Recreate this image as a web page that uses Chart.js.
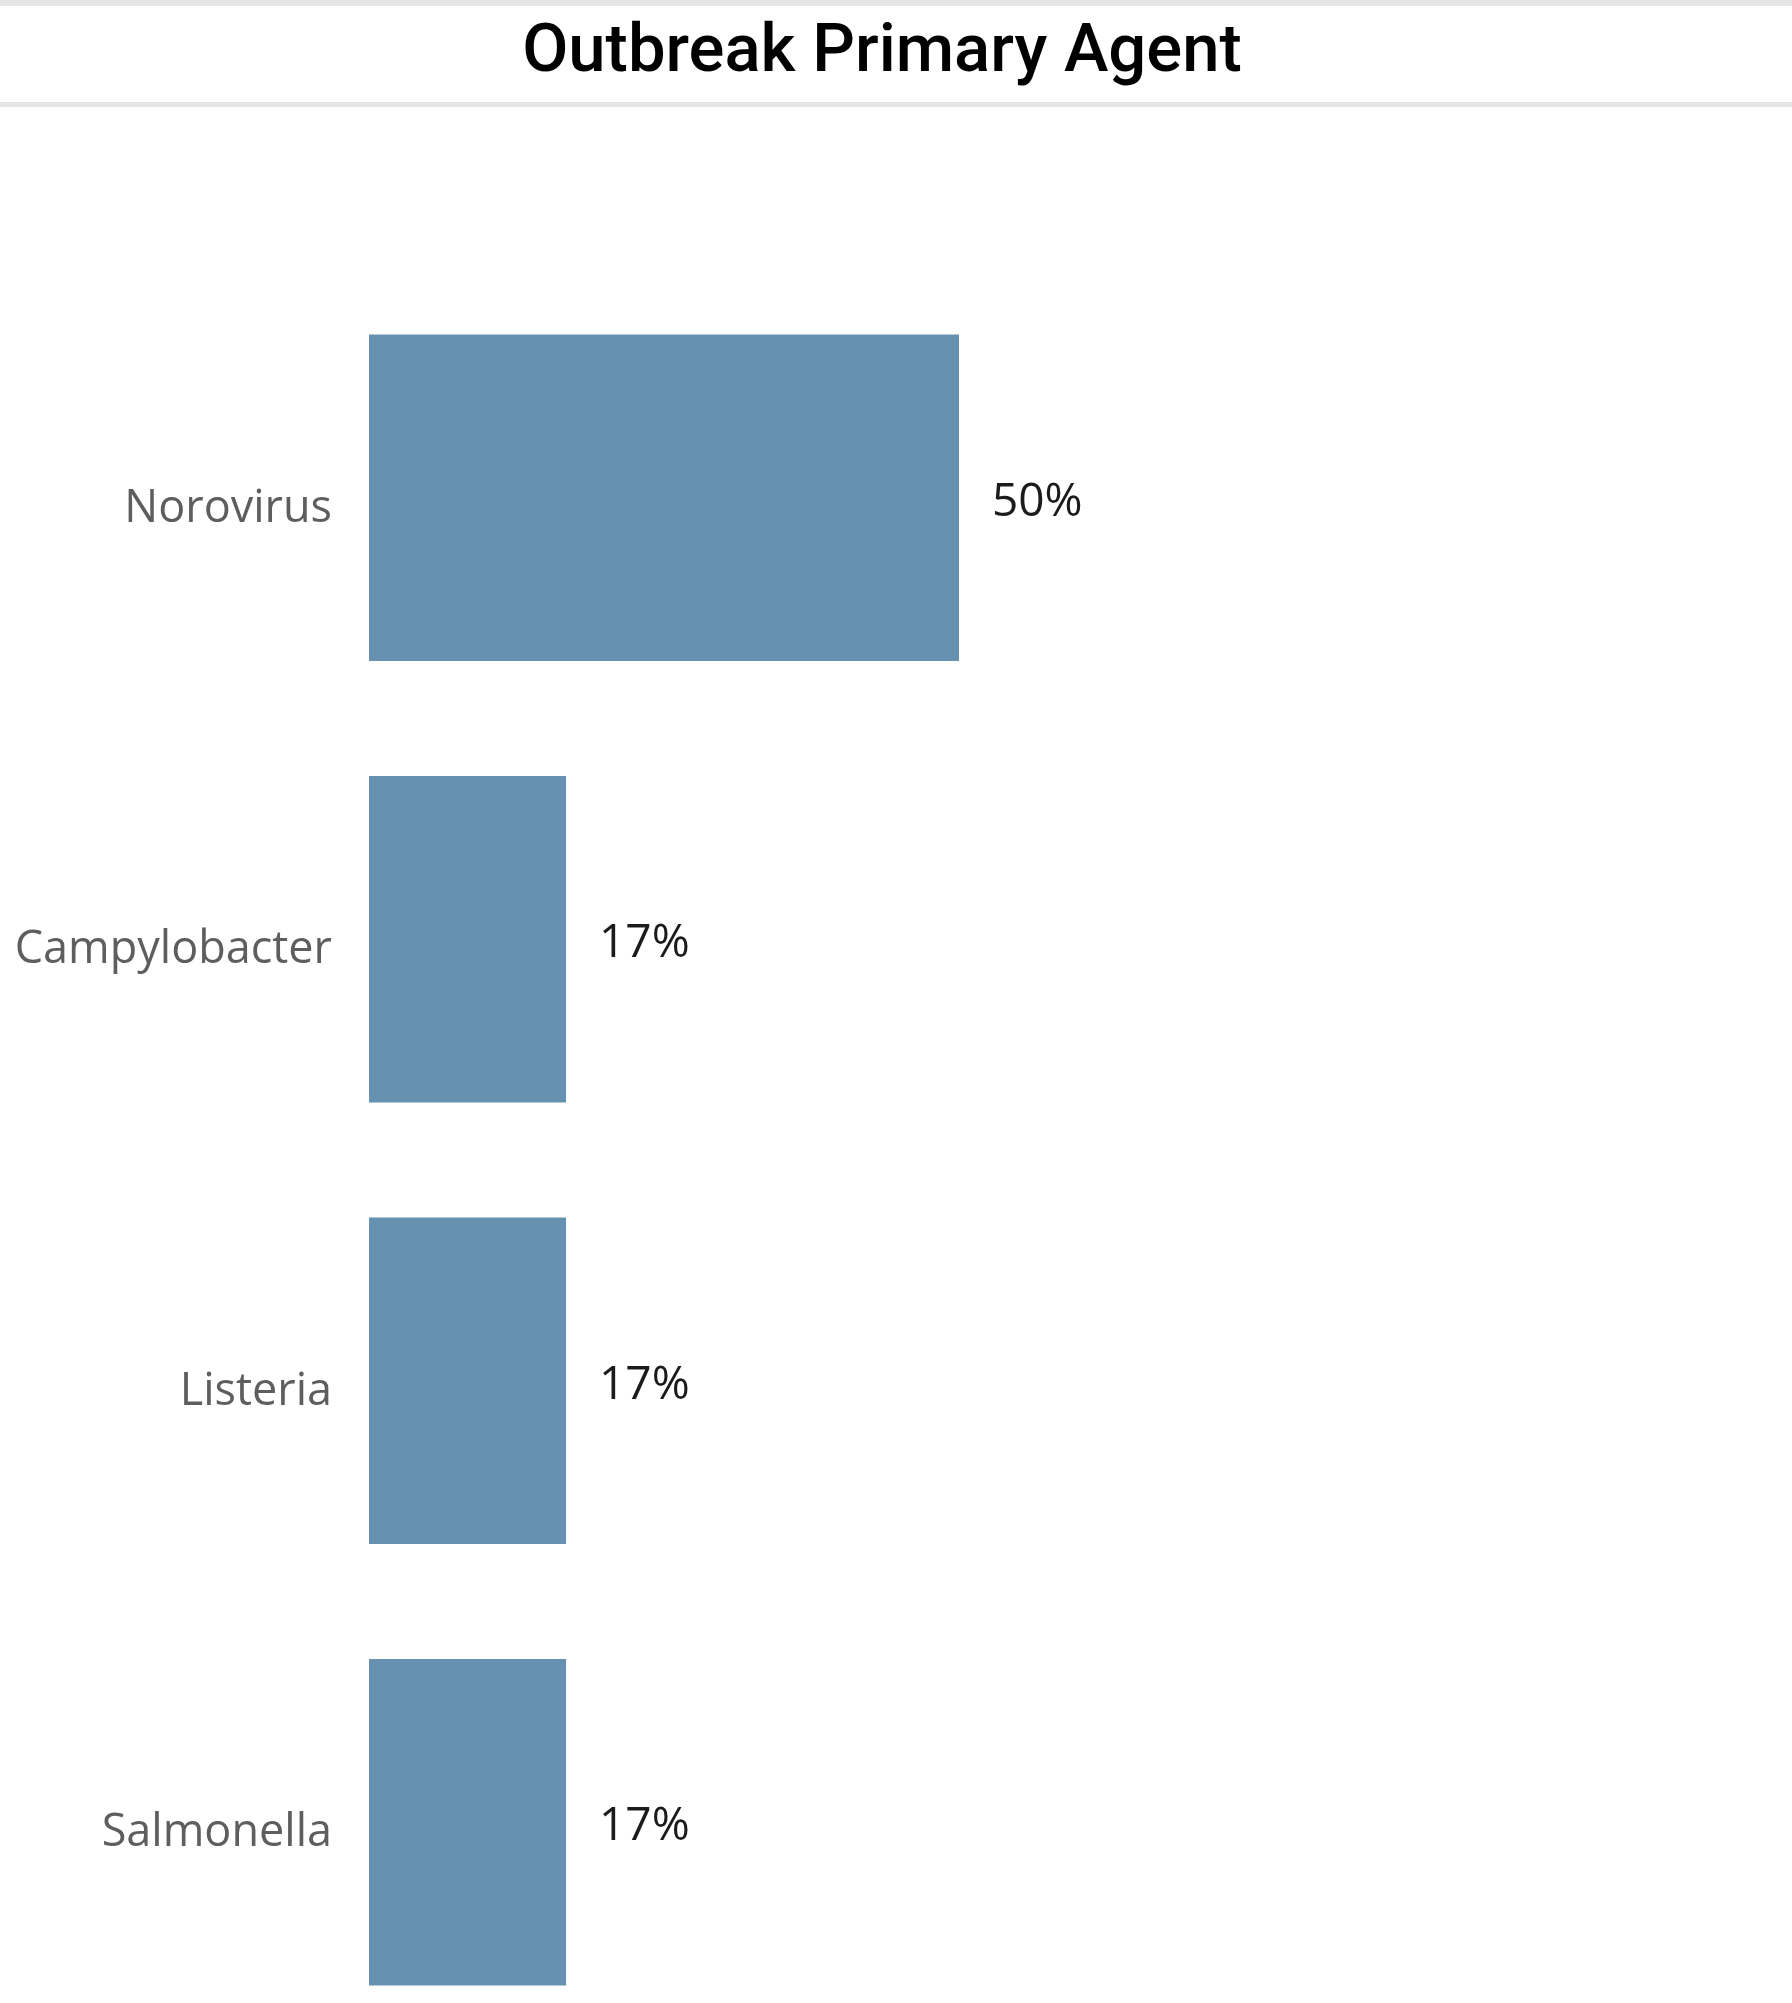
<!DOCTYPE html>
<html>
<head>
<meta charset="utf-8">
<script src="https://cdn.jsdelivr.net/npm/chart.js@4"></script>
<style>
  html, body { margin: 0; padding: 0; background: #fff; }
  body { width: 1792px; height: 2003px; overflow: hidden; position: relative; }
  #header {
    position: absolute; left: 0; top: 0; width: 1792px; height: 107px;
    border-top: 6px solid #e5e5e5; border-bottom: 5px solid #e5e5e5;
    box-sizing: border-box;
  }
  #title {
    position: absolute; left: 0; width: 1764px; top: 2px;
    text-align: center; font-family: Roboto, sans-serif; font-weight: 500;
    font-size: 67px; line-height: 80px; color: #000;
  }
  #wrap { position: absolute; left: 0; top: 107px; width: 1792px; height: 1896px; overflow: hidden; }
  #agentChart { display: block; }
</style>
</head>
<body>
<div id="header"><div id="title">Outbreak Primary Agent</div></div>
<div id="wrap"><canvas id="agentChart" width="1792" height="2000"></canvas></div>
<script>
const agents = ["Norovirus", "Campylobacter", "Listeria", "Salmonella"];
const shares = [50, 16.7, 16.7, 16.7];
const shareLabels = ["50%", "17%", "17%", "17%"];

const barColor = "#6791b0";

// draws the percent text right of each bar
const valueLabels = {
  id: "valueLabels",
  afterDatasetsDraw(chart) {
    const ctx = chart.ctx;
    const meta = chart.getDatasetMeta(0);
    ctx.save();
    ctx.font = "46px 'Open Sans', sans-serif";
    ctx.fillStyle = "#1b1b1b";
    ctx.textAlign = "left";
    ctx.textBaseline = "middle";
    meta.data.forEach((bar, i) => {
      ctx.fillText(shareLabels[i], bar.x + 33, bar.y + 5);
    });
    ctx.restore();
  }
};

new Chart(document.getElementById("agentChart"), {
  type: "bar",
  data: {
    labels: agents,
    datasets: [
      {
        data: shares,
        backgroundColor: barColor,
        categoryPercentage: 1,
        barPercentage: 0.74
      }
    ]
  },
  options: {
    indexAxis: "y",
    responsive: false,
    animation: false,
    layout: { padding: { top: 170, right: 243, bottom: 0, left: 0 } },
    plugins: {
      legend: { display: false },
      tooltip: { enabled: false }
    },
    scales: {
      x: { display: false, min: 0, max: 100 },
      y: {
        grid: { display: false, drawTicks: false },
        border: { display: false },
        ticks: {
          padding: 37,
          labelOffset: 11,
          color: "#605e5c",
          font: { family: "'Open Sans', sans-serif", size: 45 }
        },
        afterFit(scale) {
          scale.width = 369;
        }
      }
    }
  },
  plugins: [valueLabels]
});
</script>
</body>
</html>
